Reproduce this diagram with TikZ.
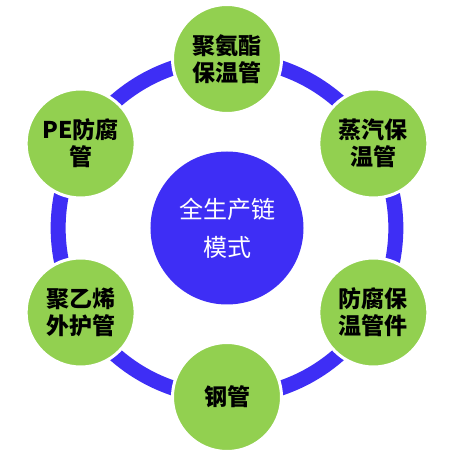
\documentclass[tikz,border=0pt]{standalone}
\usepackage{fontspec}
\usetikzlibrary{backgrounds}
\newfontfamily\cjk{Noto Sans CJK SC}
\newfontfamily\cjkbold{Noto Sans CJK SC Black}
\definecolor{ringblue}{RGB}{62,46,245}
\definecolor{leafgreen}{RGB}{146,208,80}

\begin{document}
\begin{tikzpicture}[x=1pt,y=1pt,
                    item/.style={circle,fill=leafgreen,draw=white,line width=3pt,
                                 minimum size=109pt,inner sep=0pt,align=center,
                                 font=\cjkbold\fontsize{23}{27}\selectfont},
                    hub/.style={circle,fill=ringblue,minimum size=153pt,inner sep=0pt,
                                align=center,text=white,font=\cjk\fontsize{24}{38}\selectfont},
                    ring/.style={draw=ringblue,line width=15pt,bend left=30,looseness=0.91}]

  \useasboundingbox (-227,-229) rectangle (233,228);

  	\node[hub] (hub) at (0,0)            		{全生产链\\模式};

  	\node[item] (A) at (90:169)          		{聚氨酯\\保温管};
  	\node[item] (B) at (30:169)          		{蒸汽保\\温管};
  	\node[item] (C) at (-30:169)         		{防腐保\\温管件};
  	\node[item] (D) at (-90:169)         		{钢管};
  	\node[item] (E) at (210:169)         		{聚乙烯\\外护管};
  	\node[item] (F) at (150:169)         		{PE防腐\\管};

  % ring behind the circles
  \begin{scope}[on background layer]
	\path (A.center) edge[ring] (B.center);
	\path (B.center) edge[ring] (C.center);
	\path (C.center) edge[ring] (D.center);
	\path (D.center) edge[ring] (E.center);
	\path (E.center) edge[ring] (F.center);
	\path (F.center) edge[ring] (A.center);
  \end{scope}

\end{tikzpicture}
\end{document}
